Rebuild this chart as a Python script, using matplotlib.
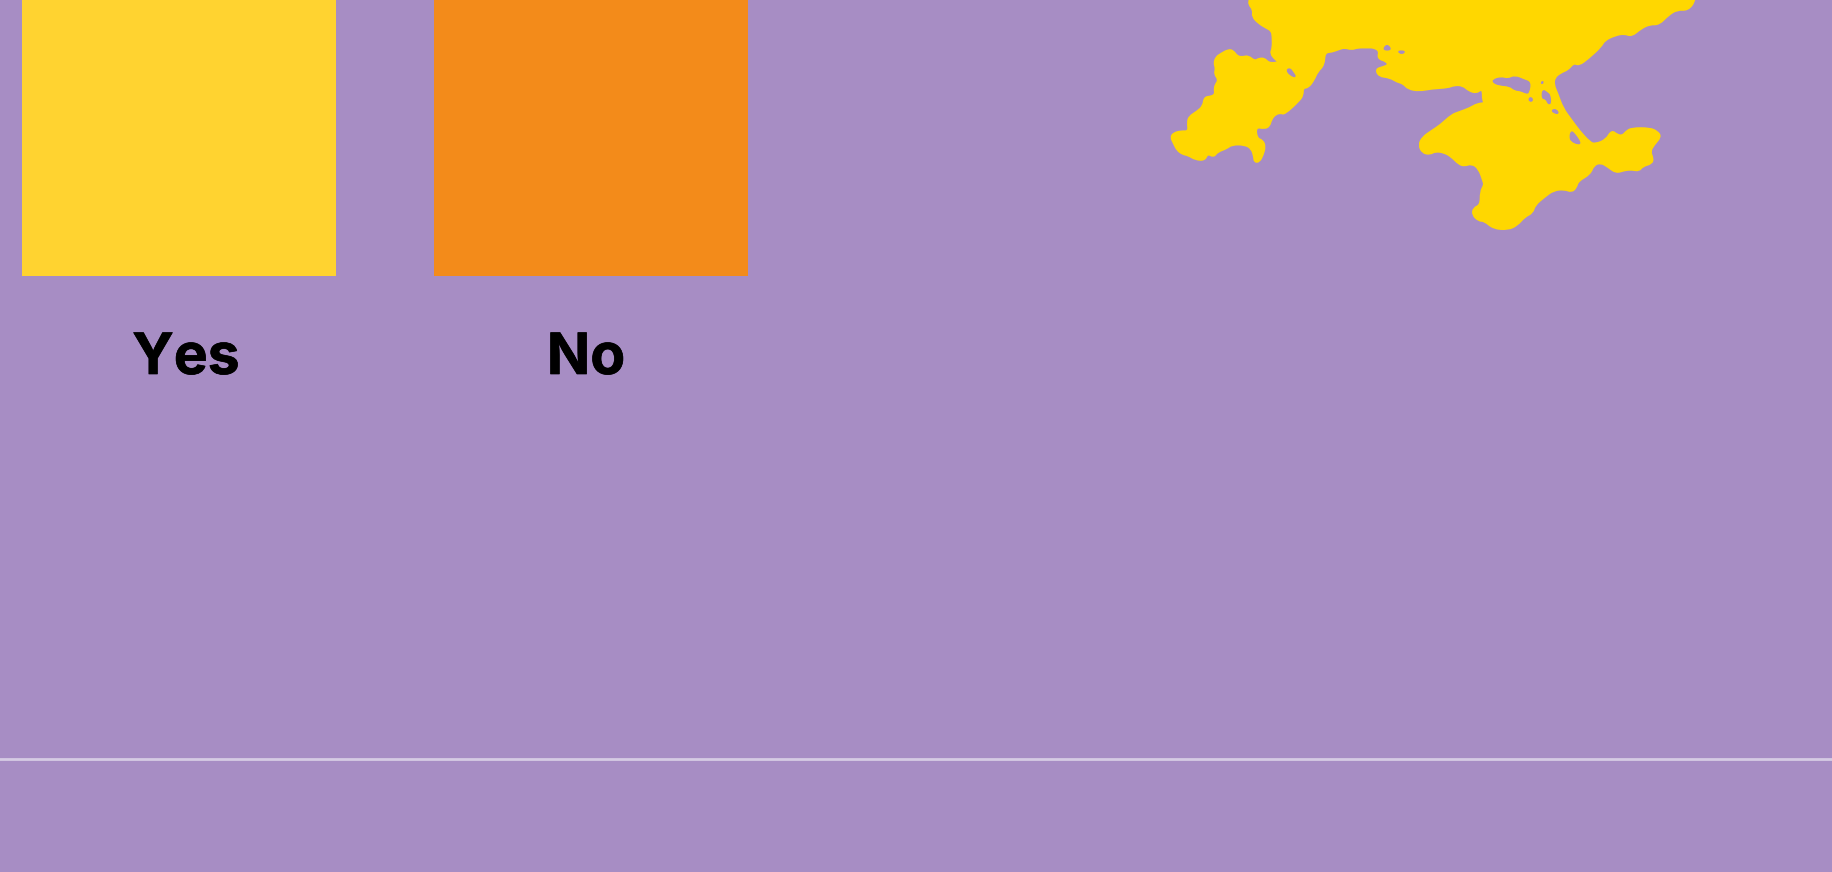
import matplotlib
matplotlib.use("Agg")
import matplotlib.pyplot as plt
import matplotlib.patheffects as pe
from matplotlib.lines import Line2D
from matplotlib.patches import PathPatch
from matplotlib.path import Path

W, H = 1832, 872
BG = "#A78DC4"

# bars run off the top of the frame, so the values are only rough
categories = ["Yes", "No"]
values = [52, 48]
bar_colors = ["#FFD330", "#F38B1A"]

# map outline (first and last points sit above the frame)
land_x = [275, 275, 272, 285, 282, 300, 320, 335, 338, 338, 332, 345, 357, 340, 325, 315, 300, 288, 270, 255, 240, 228, 215,
          195, 182, 177, 182, 178, 190, 180, 178, 180, 170, 150, 147, 130, 108, 104, 107, 85, 65, 58, 66, 75, 90, 105,
          125, 150, 158, 175, 185, 210, 225, 260, 280, 287, 288, 300, 310, 316, 310, 293, 290, 315, 328, 333, 345, 360,
          370, 410, 420, 420, 435, 450, 460, 478, 480, 500, 520, 535, 555, 570, 600, 615, 632, 627, 650, 657, 640, 622,
          630, 660, 680, 697, 710, 740, 775, 820, 835, 860, 878, 898, 910, 916, 916, 922, 900, 880, 850, 830, 800, 775,
          750, 740, 750, 770, 785, 810, 830, 850, 865, 885, 905, 918, 920, 910, 910, 890, 888, 905, 920, 945, 985, 1010,
          1030, 1052, 1058, 1085, 1110, 1140, 1160, 1172, 1177, 1210, 1220, 1240, 1260, 1282, 1305, 1325, 1345, 1355,
          1380, 1383, 1375, 1385, 1405, 1395, 1375, 1325, 1310, 1300, 1285, 1270, 1255, 1225, 1210, 1180, 1160, 1135,
          1120, 1110, 1112, 1130, 1150, 1165, 1180, 1205, 1240, 1250, 1280, 1305, 1325, 1350, 1375, 1400, 1425, 1450,
          1480, 1500, 1500]
land_y = [-60, 0, 12, 30, 50, 70, 83, 92, 110, 145, 160, 178, 186, 190, 188, 176, 176, 184, 168, 172, 170, 152, 150, 162,
          172, 190, 205, 222, 240, 255, 270, 282, 290, 292, 318, 335, 350, 368, 395, 394, 400, 412, 430, 450, 462, 465,
          478, 480, 460, 470, 455, 445, 433, 433, 445, 470, 485, 485, 465, 440, 422, 415, 380, 385, 378, 358, 342, 338,
          342, 302, 285, 263, 262, 240, 215, 195, 157, 155, 147, 142, 148, 142, 142, 142, 152, 175, 183, 195, 202, 208,
          228, 232, 245, 250, 266, 272, 265, 262, 255, 255, 272, 278, 268, 272, 300, 310, 312, 325, 337, 345, 375, 393,
          412, 435, 458, 462, 453, 457, 470, 492, 497, 490, 505, 545, 555, 575, 615, 625, 645, 662, 662, 685, 688, 675,
          650, 638, 615, 590, 570, 567, 575, 562, 543, 522, 495, 487, 500, 518, 510, 508, 512, 498, 490, 475, 455, 435,
          410, 395, 385, 385, 395, 408, 405, 392, 420, 433, 428, 392, 362, 325, 280, 255, 232, 217, 208, 188, 195, 175,
          140, 120, 105, 100, 108, 85, 72, 73, 45, 28, 30, 0, -60]

# lagoons and small water patches inside the land
holes = [
    ([943, 965, 985, 1003, 1030, 1047, 1042, 1035, 1020, 1003, 990, 960, 945],
     [240, 232, 238, 228, 240, 247, 278, 280, 272, 270, 258, 255, 248]),
    ([640, 652, 665], [150, 132, 150]),
    ([680, 703, 693], [153, 153, 163]),
    ([375, 385, 392, 403, 385], [210, 205, 215, 233, 225]),
    ([1075, 1082, 1080], [248, 243, 252]),
    ([1080, 1095, 1100, 1103, 1095, 1090, 1078], [268, 280, 285, 310, 312, 297, 295]),
    ([1042, 1050, 1053, 1044], [295, 292, 303, 304]),
    ([1105, 1118, 1125, 1110], [330, 328, 342, 338]),
    ([1158, 1165, 1185, 1178, 1158, 1155], [395, 397, 428, 433, 423, 410]),
]


def blob(xs, ys, **kw):
    # round the traced corners: each vertex becomes a control point between edge midpoints
    pts = list(zip(xs, ys))
    mids = [((a[0] + b[0]) / 2, (a[1] + b[1]) / 2) for a, b in zip(pts, pts[1:] + pts[:1])]
    verts = [mids[-1]]
    codes = [Path.MOVETO]
    for p, q in zip(pts, mids):
        verts += [p, q]
        codes += [Path.CURVE3, Path.CURVE3]
    return PathPatch(Path(verts, codes), **kw)


fig = plt.figure(figsize=(W / 100, H / 100), dpi=100, facecolor=BG)

# bars
ax = fig.add_axes([0, 1 - 276 / H, 1, 276 / H])
ax.set_facecolor("none")
ax.bar(range(2), values, width=314 / 412, color=bar_colors)
ax.set_xlim(-179 / 412, (W - 179) / 412)
ax.set_ylim(0, 40)
ax.axis("off")

label_shift = [7, -5]
for i, cat in enumerate(categories):
    t = ax.annotate(cat, (i, 0), xytext=(label_shift[i] * 0.72, -98 * 0.72), textcoords="offset points",
                    ha="center", va="baseline", fontsize=41, fontweight="bold", family="Inter",
                    color="black", annotation_clip=False)
    t.set_path_effects([pe.withStroke(linewidth=0.5, foreground="black")])

# map
m = fig.add_axes([1150 / W, 1 - 240 / H, 570 / W, 240 / H])
m.set_facecolor("none")
m.add_patch(blob(land_x, land_y, facecolor="#FFD700", edgecolor="#FFD700", lw=1.6))
for hx, hy in holes:
    m.add_patch(blob(hx, hy, facecolor=BG, edgecolor=BG, lw=0.8))
m.set_xlim(0, 1568)
m.set_ylim(720, 0)
m.axis("off")

# rule near the bottom
fig.add_artist(Line2D([0, 1], [1 - 759 / H] * 2, color="#D6CBE4", lw=2.0))

fig.savefig("out.png", dpi=100, facecolor=BG)
